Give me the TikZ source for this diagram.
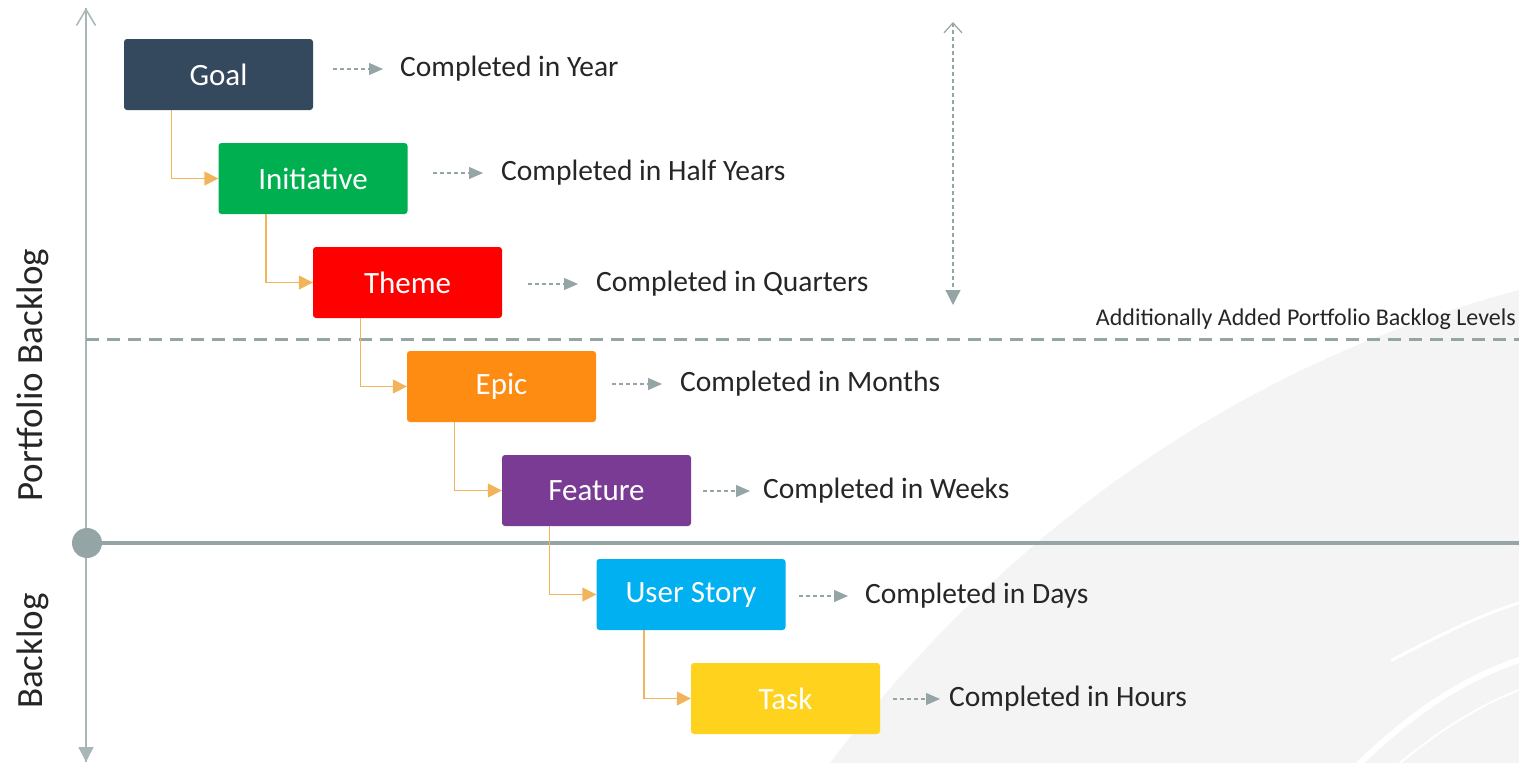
\documentclass[tikz,border=0pt]{standalone}
\usepackage{fontspec}
\setmainfont{Carlito}
\usetikzlibrary{arrows.meta}
\definecolor{axisgray}{HTML}{95A5A6}
\definecolor{lightaxis}{HTML}{A9B6B7}
\definecolor{conncol}{HTML}{F2B45A}
\definecolor{txtcol}{HTML}{262626}
\definecolor{swoosh}{HTML}{F4F4F4}
\definecolor{cgoal}{HTML}{34495E}
\definecolor{cinit}{HTML}{00B050}
\definecolor{ctheme}{HTML}{FF0000}
\definecolor{cepic}{HTML}{FF8C12}
\definecolor{cfeat}{HTML}{7A3B94}
\definecolor{cstory}{HTML}{00B0F0}
\definecolor{ctask}{HTML}{FFD21E}
\begin{document}
\begin{tikzpicture}[x=1pt,y=-1pt,
  lvl/.style={rectangle, rounded corners=3pt, minimum width=189pt, minimum height=71pt,
    inner sep=0pt, text=white, font=\fontsize{31}{36}\selectfont},
  conn/.style={draw=conncol, line width=1.5pt, -{Triangle[length=14pt,width=14pt]}},
  dasharr/.style={draw=axisgray, line width=1.2pt, dash pattern=on 4pt off 3pt,
    -{Triangle[length=14pt,width=12pt]}},
  lbl/.style={anchor=west, inner sep=0pt, text=txtcol, font=\fontsize{29.5}{34}\selectfont},
  side/.style={rotate=90, text=txtcol, font=\fontsize{37}{42}\selectfont},
  streak/.style={white, line cap=round}]
\useasboundingbox (0,0) rectangle (1519,763);
% background swoosh
\fill[swoosh] (830,763) .. controls (960,590) and (1180,380) .. (1519,290) -- (1519,763) -- cycle;
\draw[streak, line width=3pt] (1392,660) .. controls (1440,635) and (1480,615) .. (1519,603);
\draw[streak, line width=6pt] (1360,763) .. controls (1410,715) and (1460,680) .. (1519,660);
\draw[streak, line width=2pt] (1400,763) .. controls (1440,730) and (1480,705) .. (1519,690);
\draw[streak, line width=1pt] (1160,400) .. controls (1210,370) and (1260,350) .. (1310,335);

% axes
\coordinate (axtop) at (86,8);
\coordinate (axbot) at (86,762);
\draw[lightaxis, line width=1.5pt, -{Straight Barb[length=16pt,width=19pt]}] (axbot) -- (axtop);
\draw[lightaxis, line width=1.5pt, -{Triangle[length=15pt,width=15pt]}] (axtop) -- (axbot);
\coordinate (dashL) at (86,339);
\coordinate (dashR) at (1519,339);
\draw[axisgray, line width=3pt, dash pattern=on 13pt off 8pt] (dashL) -- (dashR);
\node[circle, fill=axisgray, minimum size=30pt, inner sep=0pt] (dot) at (87,543) {};
\coordinate (solidR) at (1519,543);
\draw[axisgray, line width=4pt] (dot) -- (solidR);

% vertical dashed double arrow
\coordinate (vtop) at (953,22);
\coordinate (vbot) at (953,305);
\draw[axisgray, line width=1.2pt, dash pattern=on 4pt off 3pt,
  {Straight Barb[length=10pt,width=18pt]}-{Triangle[length=15pt,width=15pt]}] (vtop) -- (vbot);

% side labels
\node[side] (pb) at (33,375) {Portfolio Backlog};
\node[side] (bl) at (33,651) {Backlog};
\node[anchor=east, inner sep=0pt, text=txtcol, font=\fontsize{24}{28}\selectfont] (add) at (1516,319) {Additionally Added Portfolio Backlog Levels};

% level boxes
\node[lvl, fill=cgoal]  (goal)  at (218.5,74.5) {Goal};
\node[lvl, fill=cinit]  (init)  at (313,178.5) {Initiative};
\node[lvl, fill=ctheme] (theme) at (407.5,282.5) {Theme};
\node[lvl, fill=cepic]  (epic)  at (501.5,386.5) {Epic};
\node[lvl, fill=cfeat]  (feat)  at (596.5,490.5) {Feature};
\node[lvl, fill=cstory] (story) at (691,594.5) {User Story};
\node[lvl, fill=ctask]  (task)  at (785.5,698.5) {Task};

% orange connectors
\draw[conn] ([xshift=-47pt]goal.south)  |- (init.west);
\draw[conn] ([xshift=-47pt]init.south)  |- (theme.west);
\draw[conn] ([xshift=-47pt]theme.south) |- (epic.west);
\draw[conn] ([xshift=-47pt]epic.south)  |- (feat.west);
\draw[conn] ([xshift=-47pt]feat.south)  |- (story.west);
\draw[conn] ([xshift=-47pt]story.south) |- (task.west);

% completion labels
\node[lbl] (tgoal)  at (400,69)  {Completed in Year};
\node[lbl] (tinit)  at (501,173) {Completed in Half Years};
\node[lbl] (ttheme) at (596,284) {Completed in Quarters};
\node[lbl] (tepic)  at (680,384) {Completed in Months};
\node[lbl] (tfeat)  at (763,491) {Completed in Weeks};
\node[lbl] (tstory) at (865,596) {Completed in Days};
\node[lbl] (ttask)  at (949,699) {Completed in Hours};

% dashed arrows
\draw[dasharr] ([xshift=20pt]goal.east |- tgoal.west)   -- ([xshift=-17pt]tgoal.west);
\draw[dasharr] ([xshift=25pt]init.east |- tinit.west)   -- ([xshift=-18pt]tinit.west);
\draw[dasharr] ([xshift=26pt]theme.east |- ttheme.west) -- ([xshift=-18pt]ttheme.west);
\draw[dasharr] ([xshift=16pt]epic.east |- tepic.west)   -- ([xshift=-18pt]tepic.west);
\draw[dasharr] ([xshift=12pt]feat.east |- tfeat.west)   -- ([xshift=-13pt]tfeat.west);
\draw[dasharr] ([xshift=13pt]story.east |- tstory.west) -- ([xshift=-17pt]tstory.west);
\draw[dasharr] ([xshift=13pt]task.east |- ttask.west)   -- ([xshift=-9pt]ttask.west);
\end{tikzpicture}
\end{document}
